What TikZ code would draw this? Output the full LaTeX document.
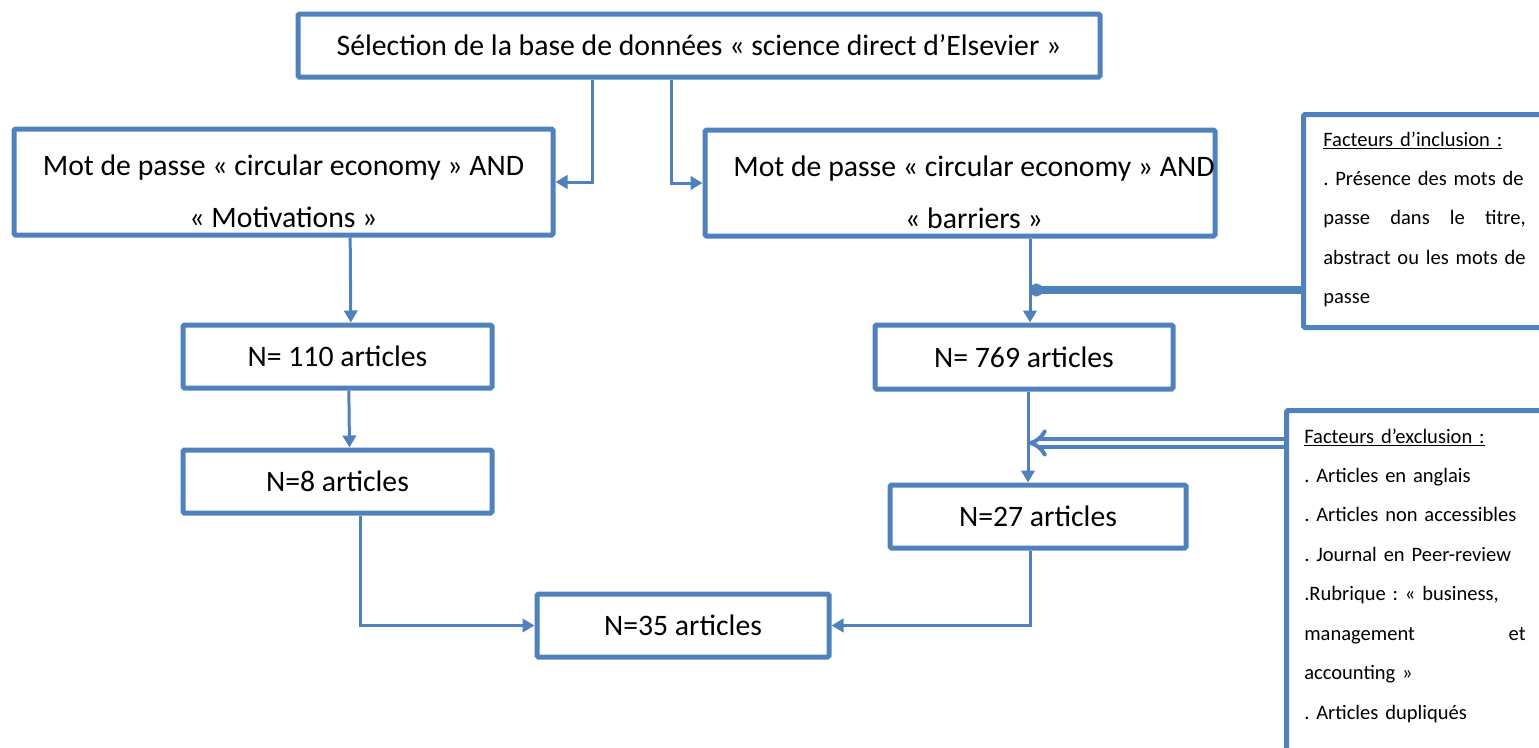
\documentclass[tikz,border=0pt]{standalone}
\usepackage{fontspec}
\setmainfont{Carlito}
\usetikzlibrary{arrows.meta,calc}
\definecolor{bl}{HTML}{4F81BD}
\frenchspacing
\newlength\incwd
\begin{document}
\begin{tikzpicture}[x=0.75pt,y=-0.75pt,
  box/.style={draw=bl, line width=3.75pt, rounded corners=1pt, inner sep=0pt, font=\fontsize{22.3}{26}\selectfont},
  bigtext/.style={inner sep=0pt, align=center, font=\fontsize{22.3}{39}\selectfont},
  smalltext/.style={inner sep=0pt, align=left, font=\fontsize{15.4}{29.6}\selectfont},
  conn/.style={draw=bl, line width=2.25pt, -{Triangle[length=9pt,width=10pt]}},
  thickconn/.style={draw=bl, line width=5.5pt, -{Circle[length=9.5pt,width=9.5pt]}},
  dblconn/.style={draw=bl, double=white, double distance=3.5pt, line width=3pt, -{Implies[length=5pt]}}]
\useasboundingbox (0,0) rectangle (1539,747);

% boxes
\node[box, minimum width=802*0.75pt, minimum height=63*0.75pt] (top) at (699,45.5) {Sélection de la base de données « science direct d’Elsevier »};
\node[box, minimum width=539*0.75pt, minimum height=106*0.75pt] (A) at (283.5,182) {};
\node[bigtext] (Atext) at (283.5,191) {Mot de passe « circular economy » AND\\« Motivations »};
\node[box, minimum width=510*0.75pt, minimum height=106*0.75pt] (B) at (960,183) {};
\node[bigtext] (Btext) at (974,192) {Mot de passe « circular economy » AND\\« barriers »};
\node[box, minimum width=309*0.75pt, minimum height=63*0.75pt] (N110) at (337.5,356.5) {N= 110 articles};
\node[box, minimum width=309*0.75pt, minimum height=63*0.75pt] (N8) at (337.5,481.5) {N=8 articles};
\node[box, minimum width=298*0.75pt, minimum height=64*0.75pt] (N769) at (1024,357) {N= 769 articles};
\node[box, minimum width=296*0.75pt, minimum height=63*0.75pt] (N27) at (1038,516.5) {N=27 articles};
\node[box, minimum width=292*0.75pt, minimum height=63*0.75pt] (N35) at (683,625.5) {N=35 articles};

% side boxes
\node[box, anchor=north west, minimum width=260*0.75pt, minimum height=213*0.75pt] (inc) at (1301,112) {};
\node[smalltext, anchor=base west, text width=180pt] (inctext) at (1323,146)
 {\settowidth{\incwd}{abstract ou les mots de}%
  \underline{Facteurs d’inclusion :}\\
  . Présence des mots de\\
  \leavevmode\hbox to \incwd{passe\hfill dans\hfill le\hfill titre,}\\
  abstract ou les mots de\\
  passe};
\node[box, anchor=north west, minimum width=270*0.75pt, minimum height=360*0.75pt] (exc) at (1284,408) {};
\node[smalltext, anchor=base west, text width=180pt] (exctext) at (1304,443)
 {\underline{Facteurs d’exclusion :}\\
  . Articles en anglais\\
  . Articles non accessibles\\
  . Journal en Peer-review\\
  .Rubrique : « business,\\
  \leavevmode\hbox to 166pt{management\hfill et}\\
  accounting »\\
  . Articles dupliqués};

% join points
\coordinate (incjoin) at (1030,290);
\coordinate (excjoin) at (1028,443);

% connectors
\draw[conn] ($(top.south)+(-107,0)$) |- (A.east);
\draw[conn] ($(top.south)+(-28,0)$) |- (B.west);
\draw[conn] ([xshift=9.5pt]N110.north |- A.south) -- ([xshift=10pt]N110.north);
\draw[conn] ([xshift=8.5pt]N8.north |- N110.south) -- ([xshift=9pt]N8.north);
\draw[conn] ([xshift=4.5pt]N769.north |- B.south) -- ([xshift=4.5pt]N769.north);
\draw[conn] ([xshift=3pt]N769.south) -- ([xshift=3pt]N769.south |- N27.north);
\draw[conn] ([xshift=17pt]N8.south) |- (N35.west);
\draw[conn] ([xshift=-6pt]N27.south) |- (N35.east);
\draw[thickconn] (inc.west |- incjoin) -- (incjoin);
\draw[dblconn] (exc.west |- excjoin) -- (excjoin);
\end{tikzpicture}
\end{document}
